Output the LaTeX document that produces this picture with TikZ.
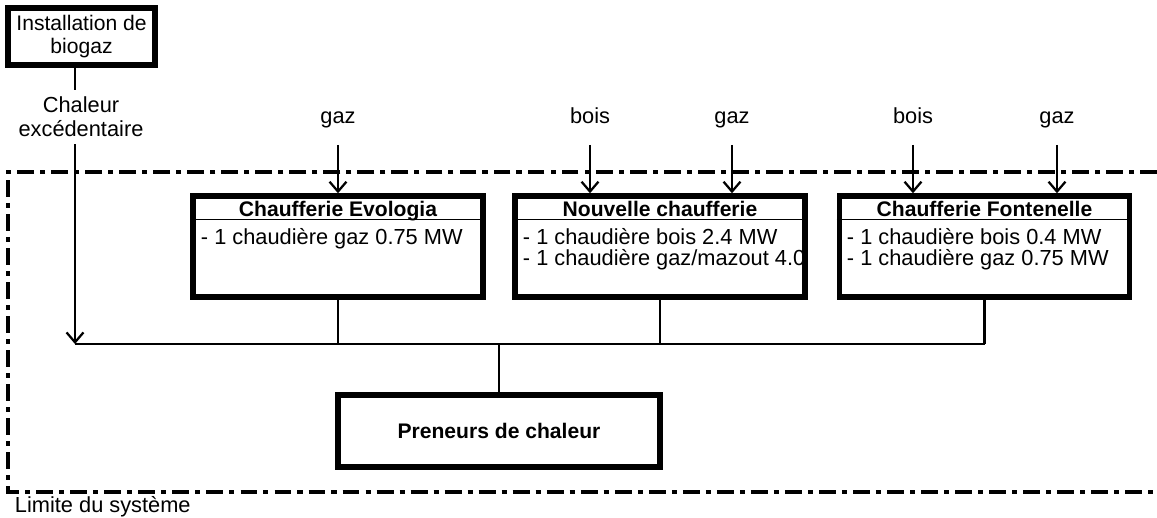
\documentclass[tikz,border=0pt]{standalone}
\usepackage{fontspec}
\setmainfont{Liberation Sans}
\usetikzlibrary{arrows.meta}

\tikzset{
	plant/.style={draw, line width=4pt, minimum width=7.25cm, minimum height=2.52cm, inner sep=0pt},
	title/.style={font=\fontsize{15}{15}\selectfont\bfseries},
	link/.style={line width=1.6pt},
	feed/.style={line width=1.6pt, -{Straight Barb[length=7pt,width=12pt,line width=1.6pt]}},
	limit/.style={line width=3.2pt, dash pattern=on 12pt off 4.3pt on 3.6pt off 4.3pt},
}

\begin{document}
\begin{tikzpicture}[x=0.025cm, y=-0.025cm, every node/.style={font=\fontsize{15.5}{15.5}\selectfont}]
	\useasboundingbox (0,0) rectangle (1157,518);
	\draw[limit] (1157,172) -- (8,172) -- (8,492) -- (1157,492);
	\node[anchor=west] (limite) at (10,507) {Limite du système};

	\node[plant, minimum width=3.675cm, minimum height=1.425cm, align=center, font=\fontsize{15}{16.4}\selectfont] (biogaz) at (81.5,36.5) {Installation de\\biogaz};
	\node[align=center, inner sep=5pt, font=\fontsize{15.5}{17}\selectfont] (chaleur) at (81,117) {Chaleur\\excédentaire};
	\coordinate (bus) at (75,344);

	\node[plant] (evologia) at (338,246.5) {};
	\node[plant] (nouvelle) at (660,246.5) {};
	\node[plant] (fontenelle) at (984.5,246.5) {};
	\node[plant, minimum width=8.05cm, minimum height=1.8cm, title] (preneurs) at (499,431) {Preneurs de chaleur};

	\foreach \b/\t in {evologia/Chaufferie Evologia, nouvelle/Nouvelle chaufferie, fontenelle/Chaufferie Fontenelle} {
		\draw[line width=1pt] ([yshift=-0.65cm]\b.north west) -- ([yshift=-0.65cm]\b.north east);
		\node[title, anchor=base] (\b-t) at ([yshift=-0.58cm]\b.north) {\t};
		\draw[link] (\b.south) -- (\b.south |- bus);
	}
	\node[anchor=base west] (evologia-1) at (196,244) {- 1 chaudière gaz 0.75 MW};
	\node[anchor=base west] (nouvelle-1) at (518,244) {- 1 chaudière bois 2.4 MW};
	\node[anchor=base west] (nouvelle-2) at (518,265) {- 1 chaudière gaz/mazout 4.0};
	\node[anchor=base west] (fontenelle-1) at (842,244) {- 1 chaudière bois 0.4 MW};
	\node[anchor=base west] (fontenelle-2) at (842,265) {- 1 chaudière gaz 0.75 MW};

	\foreach \i/\x/\s/\b in {1/338/gaz/evologia, 2/590/bois/nouvelle, 3/732/gaz/nouvelle, 4/913/bois/fontenelle, 5/1057/gaz/fontenelle} {
		\node[anchor=base] (in\i) at (\x,124) {\s};
		\draw[feed] ([yshift=-0.52cm]in\i.base) -- (in\i |- \b.north);
	}

	\draw[link] (biogaz.south -| bus) -- (chaleur.north -| bus);
	\draw[feed] (chaleur.south -| bus) -- (bus);
	\draw[link] (bus) -- (fontenelle.south |- bus);
	\draw[link] (preneurs.north) -- (preneurs.north |- bus);
\end{tikzpicture}
\end{document}
